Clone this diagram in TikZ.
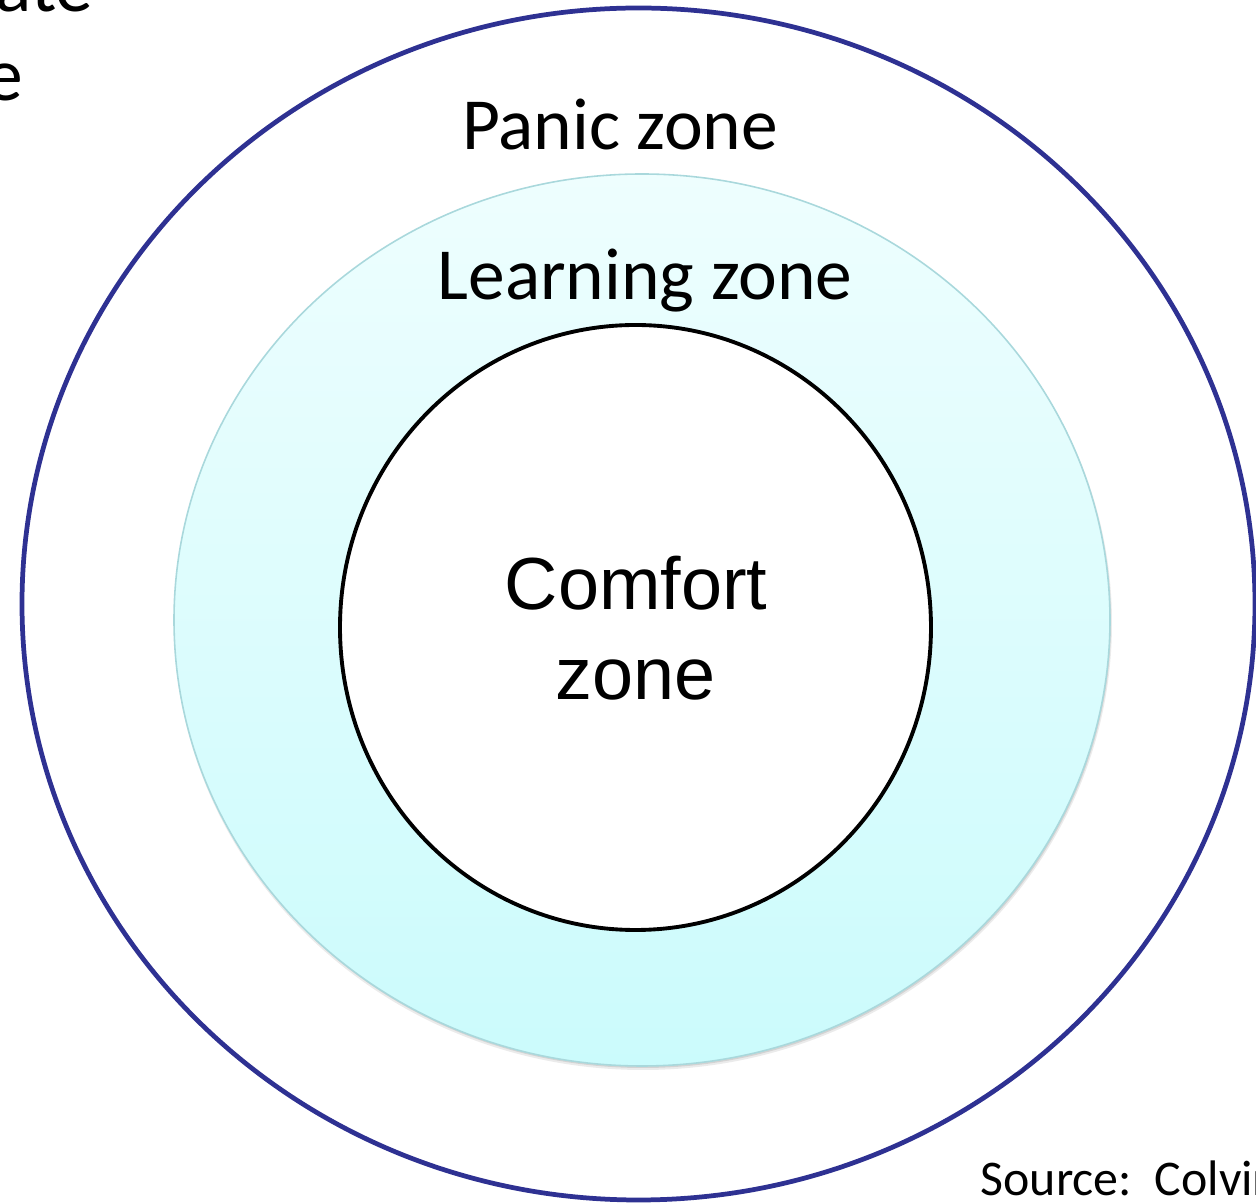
\documentclass[tikz,border=0pt]{standalone}
\usepackage{fontspec}
\setmainfont{Carlito}
\newfontfamily\arialfont{Liberation Sans}
\definecolor{panicblue}{HTML}{2E3192}
\definecolor{learntop}{HTML}{EEFEFE}
\definecolor{learnbot}{HTML}{CBFBFC}
\definecolor{learnedge}{HTML}{A9D8DC}

\begin{document}
\begin{tikzpicture}[x=0.1mm,y=-0.1mm]
    \useasboundingbox (0,0) rectangle (1256,1203);
    \clip (0,0) rectangle (1256,1203);

    % slide text cut off at the left
    \node[anchor=base east,inner sep=0pt,font=\fontsize{21.5}{26}\selectfont] (slideA) at (94,12) {ate};
    \node[anchor=base east,inner sep=0pt,font=\fontsize{21.5}{26}\selectfont] (slideB) at (24,101) {e};

    % Panic zone
    \draw[panicblue,line width=1.35pt] (638.5,604) ellipse [x radius=616.5,y radius=596];
    \node[anchor=base,inner sep=0pt,font=\fontsize{20.9}{25}\selectfont] (panic) at (620,150) {Panic zone};

    % Learning zone
    \fill[black,opacity=0.08] (643,623) ellipse [x radius=469,y radius=447];
    \fill[black,opacity=0.10] (643,622) ellipse [x radius=468,y radius=446];
    \shade[top color=learntop,bottom color=learnbot] (642,620) ellipse [x radius=468,y radius=446];
    \draw[learnedge,line width=0.45pt] (642,620) ellipse [x radius=468,y radius=446];
    \node[anchor=base,inner sep=0pt,font=\fontsize{20.9}{25}\selectfont] (learning) at (645,300) {Learning zone};

    % Comfort zone
    \filldraw[fill=white,draw=black,line width=1.1pt] (635.5,627.5) ellipse [x radius=295.5,y radius=302.5];
    \node[anchor=base,inner sep=0pt,font=\arialfont\fontsize{21}{25.6}\selectfont] (comfortA) at (636,610) {Comfort};
    \node[anchor=base,inner sep=0pt,font=\arialfont\fontsize{21}{25.6}\selectfont] (comfortB) at (636,700) {zone};

    % Source
    \node[anchor=base west,inner sep=0pt,font=\fontsize{14.2}{17}\selectfont] (source) at (980,1196) {Source:\ \ Colvin};
  \end{tikzpicture}
\end{document}
